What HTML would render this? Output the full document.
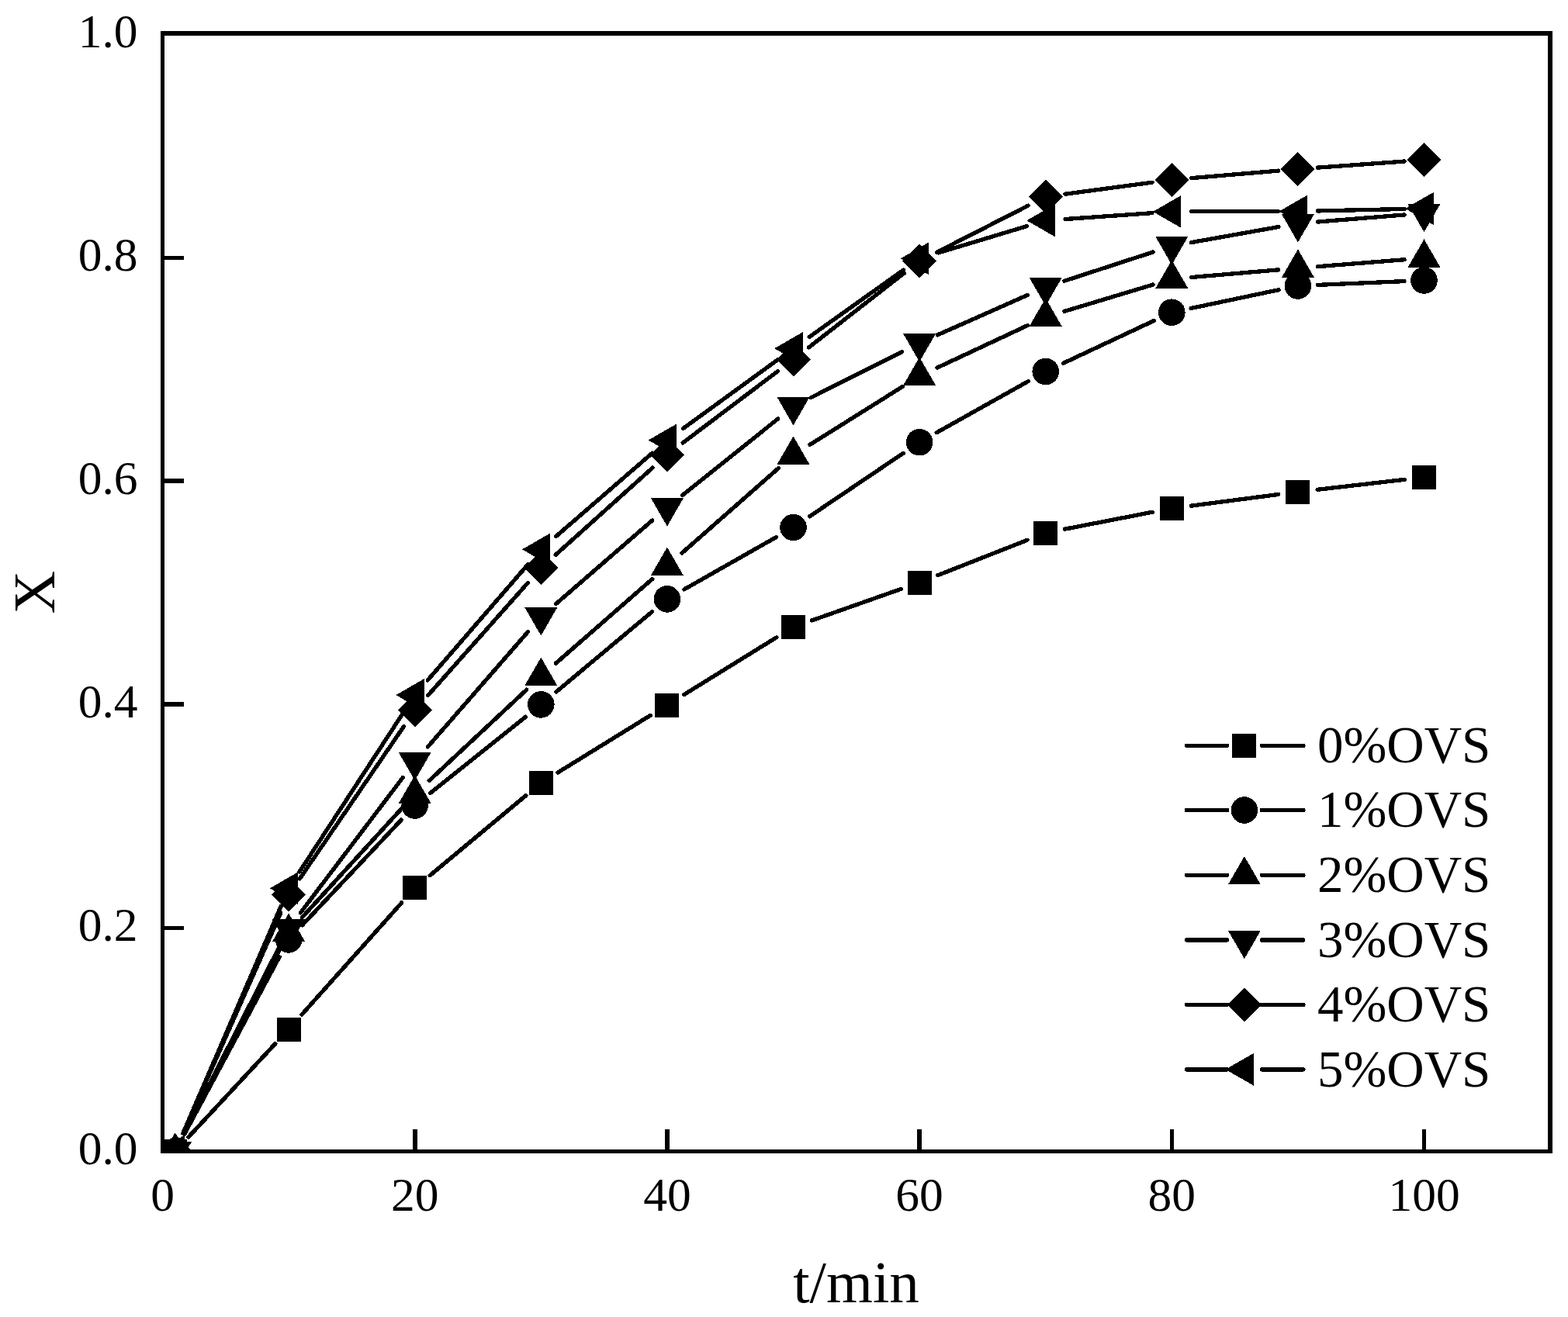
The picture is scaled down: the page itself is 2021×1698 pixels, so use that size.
<!DOCTYPE html>
<html lang="en"><head><meta charset="utf-8"><title>X versus t/min</title>
<style>html,body{margin:0;padding:0;background:#fff}body{width:2021px;height:1698px;overflow:hidden}svg{display:block}text{font-family:"Liberation Serif",serif;fill:#000}.tk{font-size:61.5px}.tt{font-size:77px}.lg{font-size:67px}</style>
</head><body>
<svg width="2021" height="1698" viewBox="0 0 2021 1698">
<rect x="0" y="0" width="2021" height="1698" fill="#fff"/>
<defs><clipPath id="plot"><rect x="207" y="40" width="1794" height="1447"/></clipPath></defs>
<g fill="#000" shape-rendering="crispEdges">
<rect x="207" y="40" width="5" height="1447"/>
<rect x="1995" y="40" width="6" height="1447"/>
<rect x="207" y="40" width="1794" height="6"/>
<rect x="207" y="1482" width="1794" height="5"/>
<rect x="212" y="330" width="25" height="5"/>
<rect x="212" y="617" width="25" height="6"/>
<rect x="212" y="905" width="25" height="6"/>
<rect x="212" y="1194" width="25" height="5"/>
<rect x="532" y="1456" width="6" height="26"/>
<rect x="857" y="1456" width="6" height="26"/>
<rect x="1182" y="1456" width="6" height="26"/>
<rect x="1508" y="1456" width="5" height="26"/>
<rect x="1833" y="1456" width="5" height="26"/>
</g>
<g clip-path="url(#plot)" shape-rendering="crispEdges">
<g fill="none" stroke="#000" stroke-width="5.3" stroke-linecap="round">
<path d="M243.05 1465.89L354.81 1345.61M389.02 1308.05L517.78 1163.85M554.21 1128.64L677.79 1025.66M718.91 996.06L838.29 922.34M881.5 895.64L1000.9 821.76M1046.45 799.94L1161.15 759.46M1208.74 741.7L1324.06 696.3M1372.63 682.15L1485.37 660.25M1535.49 652.12L1647.71 637.48M1698.13 631.28L1810.27 618.32"/>
<path d="M237.76 1462.11L360.1 1233.79M389.5 1192.9L517.3 1057M554.53 1022.63L677.47 924.27M716.78 892.1L840.42 788.7M881.98 759.85L1000.42 692.55M1043.55 665.79L1164.05 584.41M1207.25 557.77L1325.55 491.43M1370.69 468.21L1487.31 413.49M1535.16 397.47L1648.04 373.73M1698.28 367.41L1810.12 362.59"/>
<path d="M237.43 1461.94L360.43 1224.26M389.24 1182.95L517.56 1042.55M553.26 1006.46L678.74 889.24M716.43 855.19L840.77 746.51M878.97 713.03L1003.43 603.57M1044.02 573.3L1163.58 498.3M1208.11 474.03L1324.69 419.47M1372.02 401.37L1485.98 367.03M1535.61 357.52L1647.59 347.88M1698.22 343.68L1810.18 334.72"/>
<path d="M237.28 1461.86L360.58 1219.64M387.42 1176.74L519.38 1002.26M551.38 962.85L680.62 814.45M716.49 778.66L840.71 670.94M879.73 638.42L1002.67 539.98M1045.18 512.67L1162.42 453.63M1208.32 431.9L1324.48 380.4M1371.85 362.23L1486.15 324.97M1535.31 312.64L1647.89 292.56M1698.22 286.04L1810.18 276.96"/>
<path d="M236.04 1461.27L361.82 1177.03M386.42 1132.82L520.38 936.68M551.55 896.69L680.45 751.31M716.19 715.32L841.01 603.18M880.18 570.9L1002.22 478.8M1042.53 447.88L1165.07 352.32M1207.72 325.14L1325.08 265.16M1372.87 250.22L1485.13 235.18M1535.61 229.65L1647.59 220.15M1698.23 216.16L1810.17 208.04"/>
<path d="M235.82 1461.18L362.04 1168.62M385.98 1124.03L520.82 917.37M551.33 876.9L680.67 727.5M716.5 691.67L840.7 584.13M880.44 552.56L1001.96 464.14M1043.18 434.46L1164.42 348.04M1209.42 325.97L1323.38 291.63M1373.04 282.52L1484.96 274.68M1535.7 272.84L1647.5 272.56M1698.29 271.94L1810.11 269.46"/>
</g>
<g fill="#000">
<rect x="210.26" y="1469" width="31" height="31"/><rect x="356.6" y="1311.5" width="31" height="31"/><rect x="519.2" y="1129.4" width="31" height="31"/><rect x="681.8" y="993.9" width="31" height="31"/><rect x="844.4" y="893.5" width="31" height="31"/><rect x="1007" y="792.9" width="31" height="31"/><rect x="1169.6" y="735.5" width="31" height="31"/><rect x="1332.2" y="671.5" width="31" height="31"/><rect x="1494.8" y="639.9" width="31" height="31"/><rect x="1657.4" y="618.7" width="31" height="31"/><rect x="1820" y="599.9" width="31" height="31"/>
<circle cx="225.76" cy="1484.5" r="17.3"/><circle cx="372.1" cy="1211.4" r="17.3"/><circle cx="534.7" cy="1038.5" r="17.3"/><circle cx="697.3" cy="908.4" r="17.3"/><circle cx="859.9" cy="772.4" r="17.3"/><circle cx="1022.5" cy="680" r="17.3"/><circle cx="1185.1" cy="570.2" r="17.3"/><circle cx="1347.7" cy="479" r="17.3"/><circle cx="1510.3" cy="402.7" r="17.3"/><circle cx="1672.9" cy="368.5" r="17.3"/><circle cx="1835.5" cy="361.5" r="17.3"/>
<polygon points="225.76,1460.2 246.76,1496.6 204.76,1496.6"/><polygon points="372.1,1177.4 393.1,1213.8 351.1,1213.8"/><polygon points="534.7,999.5 555.7,1035.9 513.7,1035.9"/><polygon points="697.3,847.6 718.3,884 676.3,884"/><polygon points="859.9,705.5 880.9,741.9 838.9,741.9"/><polygon points="1022.5,562.5 1043.5,598.9 1001.5,598.9"/><polygon points="1185.1,460.5 1206.1,496.9 1164.1,496.9"/><polygon points="1347.7,384.4 1368.7,420.8 1326.7,420.8"/><polygon points="1510.3,335.4 1531.3,371.8 1489.3,371.8"/><polygon points="1672.9,321.4 1693.9,357.8 1651.9,357.8"/><polygon points="1835.5,308.4 1856.5,344.8 1814.5,344.8"/>
<polygon points="225.76,1508.8 246.76,1472.4 204.76,1472.4"/><polygon points="372.1,1221.3 393.1,1184.9 351.1,1184.9"/><polygon points="534.7,1006.3 555.7,969.9 513.7,969.9"/><polygon points="697.3,819.6 718.3,783.2 676.3,783.2"/><polygon points="859.9,678.6 880.9,642.2 838.9,642.2"/><polygon points="1022.5,548.4 1043.5,512 1001.5,512"/><polygon points="1185.1,466.5 1206.1,430.1 1164.1,430.1"/><polygon points="1347.7,394.4 1368.7,358 1326.7,358"/><polygon points="1510.3,341.4 1531.3,305 1489.3,305"/><polygon points="1672.9,312.4 1693.9,276 1651.9,276"/><polygon points="1835.5,299.2 1856.5,262.8 1814.5,262.8"/>
<polygon points="225.76,1462.5 247.76,1484.5 225.76,1506.5 203.76,1484.5"/><polygon points="372.1,1131.8 394.1,1153.8 372.1,1175.8 350.1,1153.8"/><polygon points="534.7,893.7 556.7,915.7 534.7,937.7 512.7,915.7"/><polygon points="697.3,710.3 719.3,732.3 697.3,754.3 675.3,732.3"/><polygon points="859.9,564.2 881.9,586.2 859.9,608.2 837.9,586.2"/><polygon points="1022.5,441.5 1044.5,463.5 1022.5,485.5 1000.5,463.5"/><polygon points="1185.1,314.7 1207.1,336.7 1185.1,358.7 1163.1,336.7"/><polygon points="1347.7,231.6 1369.7,253.6 1347.7,275.6 1325.7,253.6"/><polygon points="1510.3,209.8 1532.3,231.8 1510.3,253.8 1488.3,231.8"/><polygon points="1672.9,196 1694.9,218 1672.9,240 1650.9,218"/><polygon points="1835.5,184.2 1857.5,206.2 1835.5,228.2 1813.5,206.2"/>
<polygon points="201.46,1484.5 237.86,1463.5 237.86,1505.5"/><polygon points="347.8,1145.3 384.2,1124.3 384.2,1166.3"/><polygon points="510.4,896.1 546.8,875.1 546.8,917.1"/><polygon points="673,708.3 709.4,687.3 709.4,729.3"/><polygon points="835.6,567.5 872,546.5 872,588.5"/><polygon points="998.2,449.2 1034.6,428.2 1034.6,470.2"/><polygon points="1160.8,333.3 1197.2,312.3 1197.2,354.3"/><polygon points="1323.4,284.3 1359.8,263.3 1359.8,305.3"/><polygon points="1486,272.9 1522.4,251.9 1522.4,293.9"/><polygon points="1648.6,272.5 1685,251.5 1685,293.5"/><polygon points="1811.2,268.9 1847.6,247.9 1847.6,289.9"/>
</g></g>
<text class="tk" text-anchor="end" x="177.5" y="60.7">1.0</text>
<text class="tk" text-anchor="end" x="177.5" y="348.7">0.8</text>
<text class="tk" text-anchor="end" x="177.5" y="636.7">0.6</text>
<text class="tk" text-anchor="end" x="177.5" y="924.7">0.4</text>
<text class="tk" text-anchor="end" x="177.5" y="1212.7">0.2</text>
<text class="tk" text-anchor="end" x="177.5" y="1500.7">0.0</text>
<text class="tk" text-anchor="middle" x="209.5" y="1560.6">0</text>
<text class="tk" text-anchor="middle" x="534.7" y="1560.6">20</text>
<text class="tk" text-anchor="middle" x="859.9" y="1560.6">40</text>
<text class="tk" text-anchor="middle" x="1185.1" y="1560.6">60</text>
<text class="tk" text-anchor="middle" x="1510.3" y="1560.6">80</text>
<text class="tk" text-anchor="middle" x="1835.5" y="1560.6">100</text>
<text class="tt" text-anchor="middle" x="1103.5" y="1678.6">t/min</text>
<text class="tt" text-anchor="middle" transform="translate(70.4 763.6) rotate(-90)">X</text>
<g shape-rendering="crispEdges"><g fill="none" stroke="#000" stroke-width="5.5" stroke-linecap="round">
<path d="M1529.6 961.3L1581.45 961.3M1626.35 961.3L1679.8 961.3M1529.6 1044.5L1581.45 1044.5M1626.35 1044.5L1679.8 1044.5M1529.6 1128.3L1581.45 1128.3M1626.35 1128.3L1679.8 1128.3M1529.6 1211.9L1581.45 1211.9M1626.35 1211.9L1679.8 1211.9M1529.6 1295.4L1581.45 1295.4M1626.35 1295.4L1679.8 1295.4M1529.6 1378.8L1581.45 1378.8M1626.35 1378.8L1679.8 1378.8"/>
</g><g fill="#000">
<rect x="1588.4" y="945.8" width="31" height="31"/>
<circle cx="1603.9" cy="1044.5" r="17.3"/>
<polygon points="1603.9,1104 1624.9,1140.4 1582.9,1140.4"/>
<polygon points="1603.9,1236.2 1624.9,1199.8 1582.9,1199.8"/>
<polygon points="1603.9,1273.4 1625.9,1295.4 1603.9,1317.4 1581.9,1295.4"/>
<polygon points="1579.6,1378.8 1616,1357.8 1616,1399.8"/>
</g></g>
<text class="lg" x="1698" y="983.1">0%OVS</text>
<text class="lg" x="1698" y="1066.3">1%OVS</text>
<text class="lg" x="1698" y="1150.1">2%OVS</text>
<text class="lg" x="1698" y="1233.7">3%OVS</text>
<text class="lg" x="1698" y="1317.2">4%OVS</text>
<text class="lg" x="1698" y="1400.6">5%OVS</text>
</svg></body></html>
